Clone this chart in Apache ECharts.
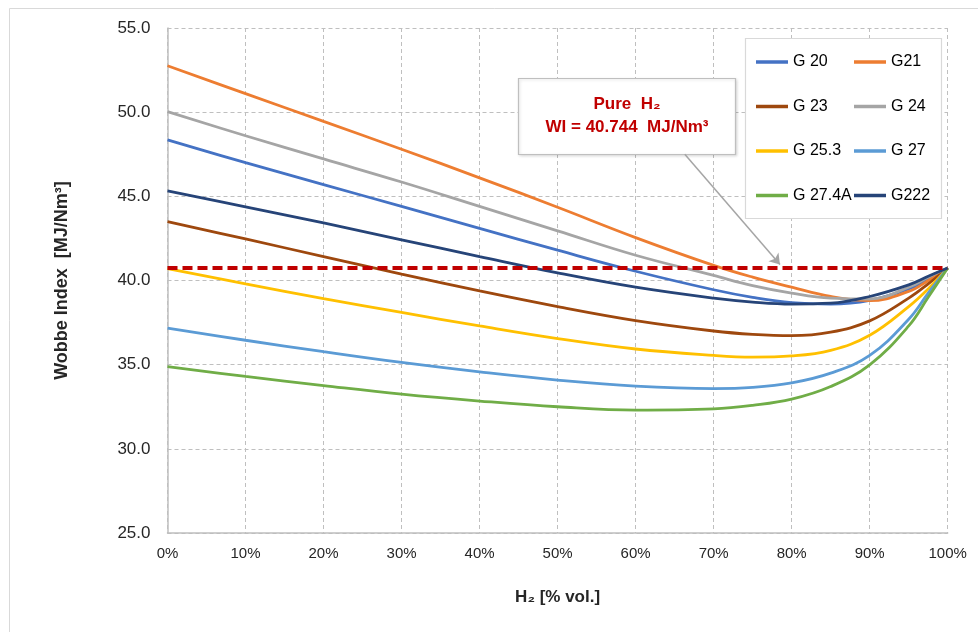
<!DOCTYPE html>
<html>
<head>
<meta charset="utf-8">
<script src="https://cdn.jsdelivr.net/npm/echarts@6/dist/echarts.min.js"></script>
<style>
  html, body { margin: 0; padding: 0; background: #fff; }
  #chart { width: 978px; height: 632px; }
</style>
</head>
<body>
<div id="chart"></div>
<script>
// H2 share in % vol.
var h2 = [0, 10, 20, 30, 40, 50, 60, 70, 75, 80, 85, 90, 95, 97.5, 100];

// Wobbe index [MJ/Nm3] for each gas
var g20   = [48.35, 47.00, 45.70, 44.40, 43.10, 41.80, 40.55, 39.45, 39.00, 38.68, 38.60, 38.82, 39.50, 40.10, 40.744];
var g21   = [52.76, 51.10, 49.45, 47.80, 46.10, 44.35, 42.55, 40.90, 40.20, 39.60, 39.05, 38.80, 39.35, 40.00, 40.744];
var g23   = [43.50, 42.47, 41.42, 40.38, 39.38, 38.45, 37.62, 37.00, 36.80, 36.72, 36.93, 37.60, 38.95, 39.80, 40.744];
var g24   = [50.03, 48.60, 47.22, 45.85, 44.40, 42.95, 41.50, 40.30, 39.70, 39.25, 38.95, 38.90, 39.60, 40.20, 40.744];
var g253  = [40.71, 39.80, 38.93, 38.10, 37.30, 36.55, 35.93, 35.55, 35.45, 35.52, 35.85, 36.75, 38.45, 39.50, 40.744];
var g27   = [37.17, 36.45, 35.77, 35.13, 34.57, 34.08, 33.72, 33.58, 33.65, 33.92, 34.50, 35.55, 37.70, 39.25, 40.744];
var g274a = [34.89, 34.30, 33.76, 33.25, 32.84, 32.50, 32.30, 32.37, 32.58, 32.95, 33.70, 34.99, 37.30, 39.00, 40.744];
var g222  = [45.32, 44.38, 43.42, 42.42, 41.42, 40.45, 39.60, 38.95, 38.72, 38.60, 38.65, 39.05, 39.74, 40.25, 40.744];

var pureH2 = 40.744;
var yTicks = [25, 30, 35, 40, 45, 50, 55];

var names  = ['G 20', 'G21', 'G 23', 'G 24', 'G 25.3', 'G 27', 'G 27.4A', 'G222'];
var values = [g20, g21, g23, g24, g253, g27, g274a, g222];
var colors = ['#4472C4', '#ED7D31', '#9E480E', '#A5A5A5', '#FFC000', '#5B9BD5', '#70AD47', '#264478'];

function pairs(ys) {
  return h2.map(function (x, i) { return [x, ys[i]]; });
}

var series = names.map(function (n, i) {
  return {
    name: n,
    type: 'line',
    data: pairs(values[i]),
    smooth: 0.4,
    symbol: 'none',
    lineStyle: { width: 2.8, color: colors[i] },
    itemStyle: { color: colors[i] },
    z: 3
  };
});

// pure hydrogen reference line + arrow from the note box
series.push({
  name: 'Pure H2',
  type: 'line',
  data: [[0, pureH2], [100, pureH2]],
  symbol: 'none',
  lineStyle: { width: 4, color: '#C00000', type: [10, 5] },
  z: 4,
  markLine: {
    silent: true,
    symbol: ['none', 'arrow'],
    symbolSize: 10,
    label: { show: false },
    lineStyle: { color: '#A5A5A5', width: 1.5, type: 'solid' },
    data: [[{ coord: [66.3, 47.5] }, { coord: [78.5, 40.95] }]]
  }
});

var font = '"Liberation Sans", Arial, sans-serif';
var myChart = echarts.init(document.getElementById('chart'));
myChart.setOption({
  animation: false,
  backgroundColor: '#fff',
  textStyle: { fontFamily: font },
  grid: { left: 167.5, right: 30.3, top: 28, bottom: 99 },
  xAxis: {
    type: 'value',
    min: 0, max: 100, interval: 10,
    axisLine: { show: true, lineStyle: { color: '#BFBFBF', width: 1.5 } },
    axisTick: { show: false },
    axisLabel: { formatter: '{value}%', margin: 13, fontSize: 15, color: '#262626', fontFamily: font },
    splitLine: { show: true, lineStyle: { color: '#BFBFBF', type: [4, 3], width: 1 } },
    name: 'H\u2082 [% vol.]',
    nameLocation: 'middle',
    nameGap: 56,
    nameTextStyle: { fontSize: 17, fontWeight: 'bold', color: '#262626', fontFamily: font }
  },
  yAxis: {
    type: 'value',
    min: yTicks[0], max: yTicks[yTicks.length - 1], interval: 5,
    axisLine: { show: true, lineStyle: { color: '#BFBFBF', width: 1.5 } },
    axisTick: { show: false },
    axisLabel: { formatter: function (v) { return v.toFixed(1); }, margin: 17, fontSize: 17, color: '#262626', fontFamily: font },
    splitLine: { show: true, lineStyle: { color: '#BFBFBF', type: [4, 3], width: 1 } },
    name: 'Wobbe Index  [MJ/Nm\u00B3]',
    nameLocation: 'middle',
    nameRotate: 90,
    nameGap: 96,
    nameTextStyle: { fontSize: 18, fontWeight: 'bold', color: '#262626', fontFamily: font }
  },
  legend: [
    {
      orient: 'vertical', left: 751, top: 47, icon: 'rect', itemWidth: 32, itemHeight: 3.5, itemGap: 24.5, z: 6,
      textStyle: { fontSize: 16, color: '#000', lineHeight: 20, fontFamily: font },
      data: ['G 20', 'G 23', 'G 25.3', 'G 27.4A']
    },
    {
      orient: 'vertical', left: 849, top: 47, icon: 'rect', itemWidth: 32, itemHeight: 3.5, itemGap: 24.5, z: 6,
      textStyle: { fontSize: 16, color: '#000', lineHeight: 20, fontFamily: font },
      data: ['G21', 'G 24', 'G 27', 'G222']
    }
  ],
  graphic: [
    // outer frame
    { type: 'rect', silent: true, z: 0, shape: { x: 9.5, y: 8.5, width: 990, height: 650 },
      style: { fill: 'none', stroke: '#D9D9D9', lineWidth: 1 } },
    // legend box
    { type: 'rect', silent: true, z: 5, shape: { x: 745.5, y: 38.5, width: 196, height: 180 },
      style: { fill: '#fff', stroke: '#D9D9D9', lineWidth: 1.2 } },
    // note box
    { type: 'rect', silent: true, z: 5, shape: { x: 518.5, y: 78.5, width: 217, height: 76 },
      style: { fill: '#fff', stroke: '#BFBFBF', lineWidth: 1.2, shadowBlur: 3, shadowColor: 'rgba(0,0,0,0.15)', shadowOffsetX: 1, shadowOffsetY: 1 } },
    { type: 'text', silent: true, z: 6, x: 627, y: 104,
      style: { text: 'Pure  H\u2082', fill: '#C00000', font: 'bold 17px ' + font, textAlign: 'center', textVerticalAlign: 'middle' } },
    { type: 'text', silent: true, z: 6, x: 627, y: 127,
      style: { text: 'WI = 40.744  MJ/Nm\u00B3', fill: '#C00000', font: 'bold 17px ' + font, textAlign: 'center', textVerticalAlign: 'middle' } }
  ],
  series: series
});
</script>
</body>
</html>
